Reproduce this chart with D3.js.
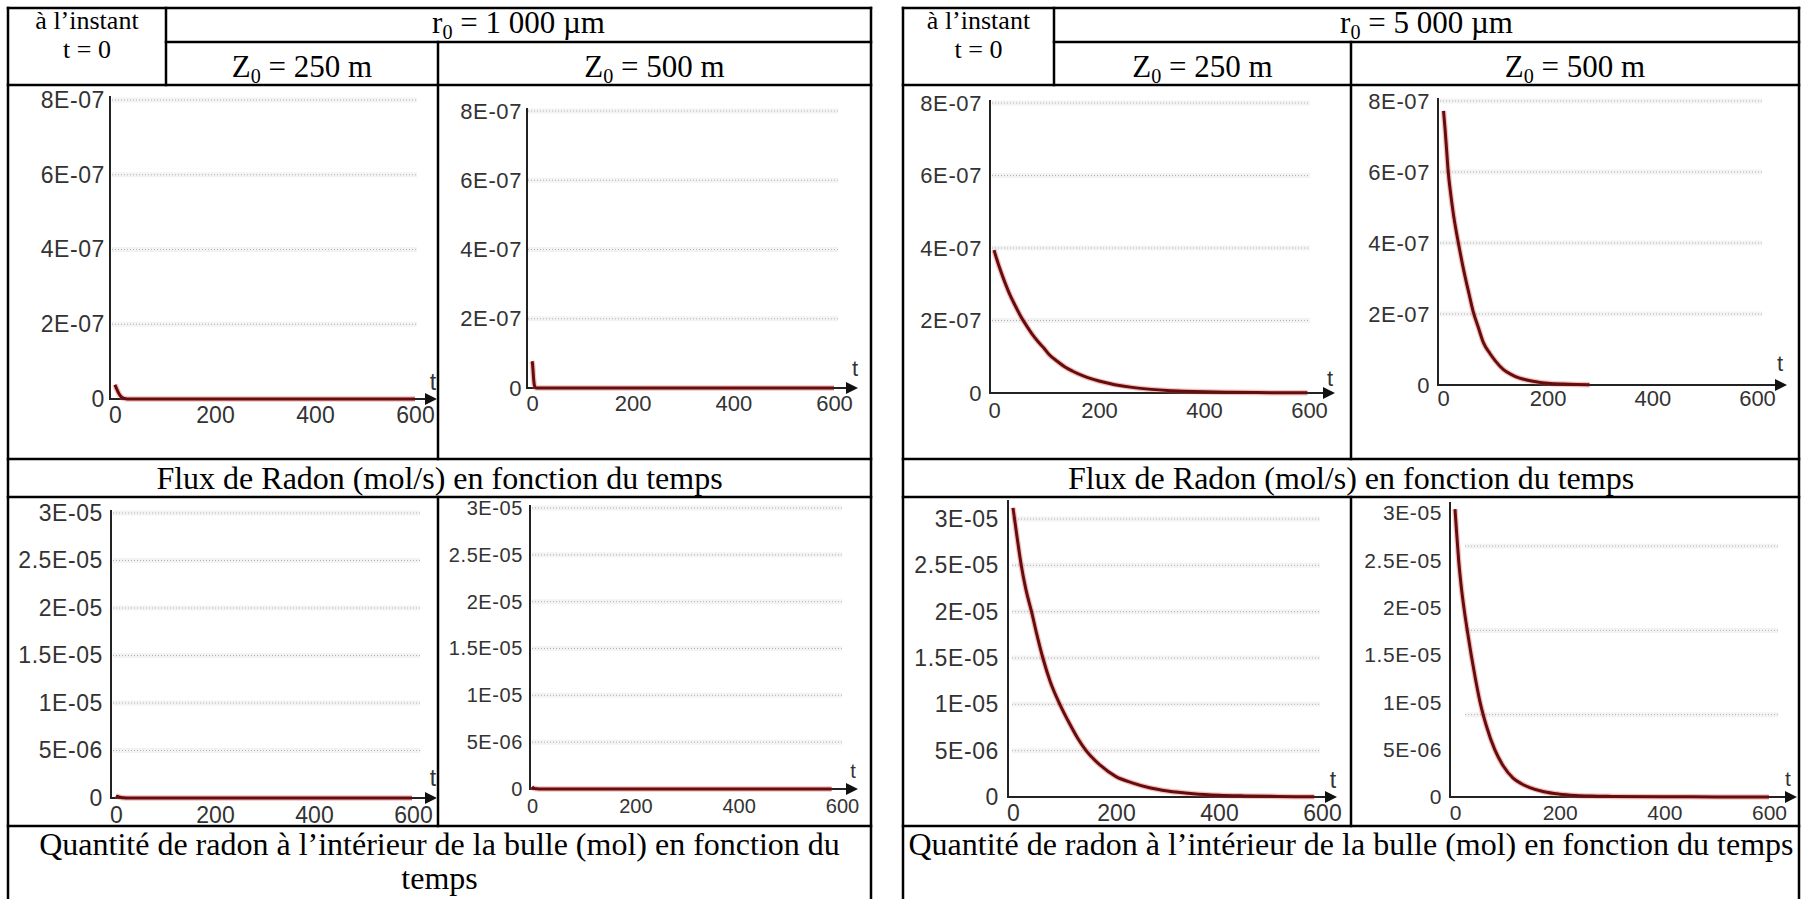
<!DOCTYPE html>
<html>
<head>
<meta charset="utf-8">
<script src="https://cdn.jsdelivr.net/npm/d3@7"></script>
<style>
  html, body { margin: 0; padding: 0; background: #fff; }
  svg { display: block; }
</style>
</head>
<body>
<svg id="chart" width="1804" height="899"></svg>
<script>
// ---------- axis ticks and labels ----------
const timeTicks = [0, 200, 400, 600];
const fluxTicks = [0, 2e-7, 4e-7, 6e-7, 8e-7];
const fluxTickLabels = ["0", "2E-07", "4E-07", "6E-07", "8E-07"];
const fluxGrid = [2e-7, 4e-7, 6e-7, 8e-7];
const qtyTicks = [0, 5e-6, 1e-5, 1.5e-5, 2e-5, 2.5e-5, 3e-5];
const qtyTickLabels = ["0", "5E-06", "1E-05", "1.5E-05", "2E-05", "2.5E-05", "3E-05"];
const qtyGrid = [5e-6, 1e-5, 1.5e-5, 2e-5, 2.5e-5, 3e-5];
const qtyGridR5Z500 = [8.7e-6, 1.76e-5, 2.65e-5];

// ---------- radon flux (mol/s) vs time ----------
const tFluxR1Z250 = [0, 2, 4, 6, 8, 11, 14, 18, 25, 60, 150, 300, 450, 600];
const fluxR1Z250 = [3.8e-8, 3.1e-8, 2.5e-8, 1.9e-8, 1.4e-8, 0.8e-8, 0.4e-8, 0.15e-8, 0, 0, 0, 0, 0, 0];

const tFluxR1Z500 = [0, 1, 2, 3, 4, 5, 7, 10, 20, 100, 250, 400, 600];
const fluxR1Z500 = [7.7e-8, 7.0e-8, 5.2e-8, 3.0e-8, 1.5e-8, 0.6e-8, 0.1e-8, 0, 0, 0, 0, 0, 0];

const tFluxR5Z250 = [0, 10, 20, 30, 40, 50, 60, 73, 85, 95, 105, 120, 136, 150, 170, 200, 230, 263, 300, 330, 360, 400, 450, 500, 550, 597];
const fluxR5Z250 = [3.94e-7, 3.48e-7, 3.08e-7, 2.72e-7, 2.42e-7, 2.14e-7, 1.90e-7, 1.62e-7, 1.40e-7, 1.24e-7, 1.06e-7, 0.88e-7, 0.71e-7, 0.60e-7, 0.47e-7, 0.33e-7, 0.23e-7, 0.155e-7, 0.10e-7, 0.07e-7, 0.05e-7, 0.032e-7, 0.02e-7, 0.012e-7, 0.008e-7, 0.005e-7];

const tFluxR5Z500 = [1, 4, 7, 10, 15, 20, 25, 30, 40, 50, 58, 68, 77, 90, 100, 115, 130, 145, 160, 180, 200, 230, 255, 280];
const fluxR5Z500 = [7.72e-7, 7.2e-7, 6.6e-7, 6.0e-7, 5.35e-7, 4.8e-7, 4.35e-7, 3.95e-7, 3.2e-7, 2.55e-7, 2.05e-7, 1.6e-7, 1.2e-7, 0.88e-7, 0.68e-7, 0.44e-7, 0.30e-7, 0.20e-7, 0.14e-7, 0.085e-7, 0.05e-7, 0.025e-7, 0.014e-7, 0.008e-7];

// ---------- radon quantity inside the bubble (mol) vs time ----------
const tQtyR1Z250 = [0, 3, 6, 10, 15, 22, 40, 150, 300, 450, 598];
const qtyR1Z250 = [2.4e-7, 1.6e-7, 1.1e-7, 0.6e-7, 0.3e-7, 0.1e-7, 0, 0, 0, 0, 0];

const tQtyR1Z500 = [0, 2, 4, 6, 9, 14, 30, 150, 300, 450, 580];
const qtyR1Z500 = [2.4e-7, 1.3e-7, 0.7e-7, 0.4e-7, 0.15e-7, 0.03e-7, 0, 0, 0, 0, 0];

const tQtyR5Z250 = [0, 8, 16, 25, 36, 46, 58, 72, 91, 110, 125, 142, 170, 200, 230, 265, 300, 350, 400, 450, 500, 550, 585];
const qtyR5Z250 = [3.12e-5, 2.8e-5, 2.5e-5, 2.24e-5, 2.0e-5, 1.76e-5, 1.5e-5, 1.25e-5, 1.0e-5, 0.79e-5, 0.64e-5, 0.5e-5, 0.34e-5, 0.22e-5, 0.155e-5, 0.10e-5, 0.065e-5, 0.036e-5, 0.02e-5, 0.012e-5, 0.007e-5, 0.004e-5, 0.003e-5];

const tQtyR5Z500 = [0, 3, 7, 12, 17, 24, 31, 39, 48, 60, 76, 92, 111, 127, 143, 170, 200, 230, 260, 300, 400, 500, 600];
const qtyR5Z500 = [3.04e-5, 2.8e-5, 2.5e-5, 2.22e-5, 2.0e-5, 1.74e-5, 1.5e-5, 1.25e-5, 1.0e-5, 0.75e-5, 0.5e-5, 0.33e-5, 0.2e-5, 0.14e-5, 0.1e-5, 0.055e-5, 0.03e-5, 0.017e-5, 0.01e-5, 0.006e-5, 0.002e-5, 0.001e-5, 0.0005e-5];

// ---------- page layout ----------
const SERIF = "'Liberation Serif','Times New Roman',serif";
const SANS = "'Liberation Sans',Arial,sans-serif";
const rows = { top: 8, sub: 42, head: 85, cap1: 459, cap1b: 497, cap2: 826, bottom: 905 };
const tables = [
  { x0: 8, x1: 871, c1: 166, c2: 438, radius: "1 000" },
  { x0: 903, x1: 1799, c1: 1054, c2: 1351, radius: "5 000" }
];

const panelLayout = [
  { cell: [8, 85, 438, 459],      axis: 110,  axisTop: 96,  x0: 115,  x1: 415,  base: 399, top: 100, gx: [112, 417],   arrow: 437,  tx: 433,  ty: 390, lab: 415, font: 23, pad: 5 },
  { cell: [438, 85, 871, 459],    axis: 527,  axisTop: 108, x0: 532,  x1: 834,  base: 388, top: 111, gx: [528, 838],   arrow: 858,  tx: 855,  ty: 376, lab: 403, font: 22, pad: 5 },
  { cell: [903, 85, 1351, 459],   axis: 990,  axisTop: 100, x0: 994,  x1: 1309, base: 393, top: 103, gx: [992, 1310],  arrow: 1335, tx: 1330, ty: 386, lab: 410, font: 22, pad: 8 },
  { cell: [1351, 85, 1799, 459],  axis: 1438, axisTop: 98,  x0: 1443, x1: 1757, base: 385, top: 101, gx: [1440, 1762], arrow: 1787, tx: 1780, ty: 371, lab: 398, font: 22, pad: 8 },
  { cell: [8, 497, 438, 826],     axis: 111,  axisTop: 510, x0: 116,  x1: 413,  base: 798, top: 513, gx: [113, 420],   arrow: 437,  tx: 433,  ty: 786, lab: 815, font: 23, pad: 8 },
  { cell: [438, 497, 871, 826],   axis: 530,  axisTop: 505, x0: 532,  x1: 842,  base: 789, top: 508, gx: [532, 842],   arrow: 858,  tx: 853,  ty: 778, lab: 806, font: 20, pad: 7 },
  { cell: [903, 497, 1351, 826],  axis: 1008, axisTop: 500, x0: 1013, x1: 1322, base: 797, top: 519, gx: [1012, 1320], arrow: 1337, tx: 1333, ty: 788, lab: 813, font: 23, pad: 9 },
  { cell: [1351, 497, 1799, 826], axis: 1450, axisTop: 502, x0: 1455, x1: 1769, base: 797, top: 513, gx: [1465, 1778], arrow: 1797, tx: 1788, ty: 786, lab: 813, font: 21, pad: 8 }
];

const panels = [
  { yMax: 8e-7, ticks: fluxTicks, labels: fluxTickLabels, grid: fluxGrid, t: tFluxR1Z250, v: fluxR1Z250 },
  { yMax: 8e-7, ticks: fluxTicks, labels: fluxTickLabels, grid: fluxGrid, t: tFluxR1Z500, v: fluxR1Z500 },
  { yMax: 8e-7, ticks: fluxTicks, labels: fluxTickLabels, grid: fluxGrid, t: tFluxR5Z250, v: fluxR5Z250 },
  { yMax: 8e-7, ticks: fluxTicks, labels: fluxTickLabels, grid: fluxGrid, t: tFluxR5Z500, v: fluxR5Z500 },
  { yMax: 3e-5, ticks: qtyTicks, labels: qtyTickLabels, grid: qtyGrid, t: tQtyR1Z250, v: qtyR1Z250 },
  { yMax: 3e-5, ticks: qtyTicks, labels: qtyTickLabels, grid: qtyGrid, t: tQtyR1Z500, v: qtyR1Z500 },
  { yMax: 3e-5, ticks: qtyTicks, labels: qtyTickLabels, grid: qtyGrid, t: tQtyR5Z250, v: qtyR5Z250 },
  { yMax: 3e-5, ticks: qtyTicks, labels: qtyTickLabels, grid: qtyGridR5Z500, t: tQtyR5Z500, v: qtyR5Z500 }
];

const svg = d3.select("#chart");
const defs = svg.append("defs");

// ---------- one small time plot ----------
function drawPanel(p, L, i) {
  const [cx0, cy0, cx1, cy1] = L.cell;
  defs.append("clipPath").attr("id", "cell" + i)
    .append("rect").attr("x", cx0 + 1.5).attr("y", cy0 + 1.5)
    .attr("width", cx1 - cx0 - 3).attr("height", cy1 - cy0 - 3);
  const g = svg.append("g").attr("clip-path", `url(#cell${i})`);

  const x = d3.scaleLinear().domain([0, 600]).range([L.x0, L.x1]);
  const y = d3.scaleLinear().domain([0, p.yMax]).range([L.base, L.top]);

  // dotted horizontal grid
  g.selectAll("line.haze").data(p.grid).join("line")
    .attr("x1", L.gx[0]).attr("x2", L.gx[1])
    .attr("y1", d => y(d)).attr("y2", d => y(d))
    .attr("stroke", "#f3f3f3").attr("stroke-width", 5);
  g.selectAll("line.grid").data(p.grid).join("line")
    .attr("x1", L.gx[0]).attr("x2", L.gx[1])
    .attr("y1", d => y(d)).attr("y2", d => y(d))
    .attr("stroke", "#b4b4b4").attr("stroke-width", 1)
    .attr("stroke-dasharray", "1,2");

  // value labels on the vertical axis
  const yAxis = d3.axisLeft(y).tickValues(p.ticks)
    .tickFormat((d, k) => p.labels[k]).tickSize(0).tickPadding(L.pad);
  const yg = g.append("g").attr("transform", `translate(${L.axis},0)`).call(yAxis);
  yg.select(".domain").remove();
  yg.attr("font-family", SANS).attr("font-size", L.font);
  yg.selectAll("text").attr("fill", "#333").attr("letter-spacing", 0.6);

  // time labels
  const padX = L.lab - L.base - 0.358 * L.font;
  const xAxis = d3.axisBottom(x).tickValues(timeTicks)
    .tickFormat(d3.format("d")).tickSize(0).tickPadding(padX);
  const xg = g.append("g").attr("transform", `translate(0,${L.base})`).call(xAxis);
  xg.select(".domain").remove();
  xg.attr("font-family", SANS).attr("font-size", L.font);
  xg.selectAll("text").attr("fill", "#333");

  // axes lines with arrow
  g.append("line").attr("x1", L.axis).attr("x2", L.axis)
    .attr("y1", L.axisTop).attr("y2", L.base + 1)
    .attr("stroke", "#222").attr("stroke-width", 2);
  g.append("line").attr("x1", L.axis).attr("x2", L.arrow - 8)
    .attr("y1", L.base).attr("y2", L.base)
    .attr("stroke", "#222").attr("stroke-width", 2);
  g.append("path")
    .attr("d", `M${L.arrow},${L.base} L${L.arrow - 12},${L.base - 6} L${L.arrow - 12},${L.base + 6} Z`)
    .attr("fill", "#111");
  g.append("text").attr("x", L.tx).attr("y", L.ty)
    .attr("text-anchor", "middle").attr("font-family", SANS)
    .attr("font-size", L.font).attr("fill", "#333").text("t");

  // curve
  const pts = p.t.map((t, k) => [t, p.v[k]]);
  const line = d3.line().x(d => x(d[0])).y(d => y(d[1])).curve(d3.curveMonotoneX);
  g.append("path").attr("d", line(pts)).attr("fill", "none")
    .attr("stroke", "#e04848").attr("stroke-opacity", 0.35).attr("stroke-width", 5.5)
    .attr("stroke-linejoin", "round");
  g.append("path").attr("d", line(pts)).attr("fill", "none")
    .attr("stroke", "#650d0d").attr("stroke-width", 3)
    .attr("stroke-linejoin", "round");
}

panels.forEach((p, i) => drawPanel(p, panelLayout[i], i));

// ---------- table rules ----------
const rules = svg.append("g").attr("stroke", "#000").attr("stroke-width", 2.5).attr("stroke-linecap", "square");
function hline(x0, x1, yy) { rules.append("line").attr("x1", x0).attr("x2", x1).attr("y1", yy).attr("y2", yy); }
function vline(xx, y0, y1) { rules.append("line").attr("x1", xx).attr("x2", xx).attr("y1", y0).attr("y2", y1); }

tables.forEach(T => {
  hline(T.x0, T.x1, rows.top);
  hline(T.c1, T.x1, rows.sub);
  hline(T.x0, T.x1, rows.head);
  hline(T.x0, T.x1, rows.cap1);
  hline(T.x0, T.x1, rows.cap1b);
  hline(T.x0, T.x1, rows.cap2);
  vline(T.x0, rows.top, rows.bottom);
  vline(T.x1, rows.top, rows.bottom);
  vline(T.c1, rows.top, rows.head);
  vline(T.c2, rows.sub, rows.cap1);
  vline(T.c2, rows.cap1b, rows.cap2);
});

// ---------- header and caption text ----------
const txt = svg.append("g").attr("font-family", SERIF).attr("fill", "#000");

function subText(xc, yb, size, main, sub, rest) {
  const t = txt.append("text").attr("x", xc).attr("y", yb)
    .attr("text-anchor", "middle").attr("font-size", size);
  t.append("tspan").text(main);
  t.append("tspan").attr("font-size", size * 0.65).attr("dy", 6).text(sub);
  t.append("tspan").attr("dy", -6).text(rest);
}

tables.forEach((T, k) => {
  const c1Mid = (T.x0 + T.c1) / 2;
  txt.append("text").attr("x", c1Mid).attr("y", 29).attr("text-anchor", "middle")
    .attr("font-size", 26).text("à l’instant");
  txt.append("text").attr("x", c1Mid).attr("y", 58).attr("text-anchor", "middle")
    .attr("font-size", 26).text("t = 0");
  subText((T.c1 + T.x1) / 2, 33, 31, "r", "0", ` = ${T.radius} µm`);
  subText((T.c1 + T.c2) / 2, 77, 31, "Z", "0", " = 250 m");
  subText((T.c2 + T.x1) / 2, 77, 31, "Z", "0", " = 500 m");

  const mid = (T.x0 + T.x1) / 2;
  txt.append("text").attr("x", mid).attr("y", 489).attr("text-anchor", "middle")
    .attr("font-size", 32).text("Flux de Radon (mol/s) en fonction du temps");
  if (k === 0) {
    txt.append("text").attr("x", mid).attr("y", 855).attr("text-anchor", "middle")
      .attr("font-size", 32).text("Quantité de radon à l’intérieur de la bulle (mol) en fonction du");
    txt.append("text").attr("x", mid).attr("y", 889).attr("text-anchor", "middle")
      .attr("font-size", 32).text("temps");
  } else {
    txt.append("text").attr("x", mid).attr("y", 855).attr("text-anchor", "middle")
      .attr("font-size", 32).text("Quantité de radon à l’intérieur de la bulle (mol) en fonction du temps");
  }
});
</script>
</body>
</html>
